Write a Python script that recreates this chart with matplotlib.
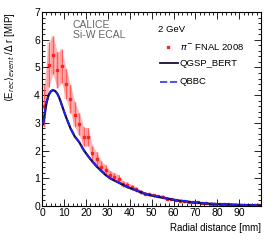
import matplotlib
matplotlib.use("Agg")
import matplotlib.pyplot as plt
from matplotlib.ticker import MultipleLocator
from matplotlib.lines import Line2D
import numpy as np

plt.rcParams['font.family'] = ['Liberation Sans', 'DejaVu Sans']

# data: pi- FNAL 2008, 2 GeV
r_data = [1, 3, 5, 7, 9, 11, 13, 15, 17, 19, 21, 23, 25, 27, 29, 31, 33, 35, 37, 39,
          41, 43, 45, 47, 49, 51, 53, 55, 57, 59, 61, 63, 65, 67, 69, 71, 73, 75, 77, 79,
          81, 83, 85, 87, 89, 91, 93, 95, 97, 99]
e_data = [3.6, 5.1, 5.45, 4.9, 5.05, 4.4, 3.85, 3.3, 2.95, 2.5, 2.5, 1.9, 1.7, 1.42, 1.3, 1.12, 1.05, 0.98, 0.8, 0.75,
          0.68, 0.6, 0.52, 0.45, 0.42, 0.38, 0.36, 0.33, 0.27, 0.24, 0.21, 0.19, 0.17, 0.15, 0.14, 0.13, 0.12, 0.10, 0.09, 0.08,
          0.07, 0.06, 0.06, 0.05, 0.05, 0.04, 0.04, 0.03, 0.03, 0.03]
err_data = [0.75, 0.8, 0.7, 0.65, 0.6, 0.55, 0.5, 0.45, 0.4, 0.35, 0.33, 0.27, 0.24, 0.2, 0.18, 0.16, 0.15, 0.14, 0.11, 0.1,
            0.09, 0.08, 0.07, 0.06, 0.06, 0.05, 0.05, 0.05, 0.04, 0.04, 0.03, 0.03, 0.03, 0.02, 0.02, 0.02, 0.02, 0.02, 0.02, 0.02,
            0.02, 0.02, 0.02, 0.02, 0.02, 0.02, 0.02, 0.02, 0.02, 0.02]

r_sim = [0.5, 2, 3, 4, 5, 6, 7, 8, 9, 10, 11, 12, 13, 14, 15, 17, 19, 21, 23, 25, 27, 29, 31, 33, 35, 37, 39,
         41, 43, 45, 47, 49, 51, 53, 55, 57, 59, 61, 63, 65, 67, 69, 71, 73, 75, 77, 79,
         81, 83, 85, 87, 89, 91, 93, 95, 97, 99.5]
e_qgsp = [2.95, 3.7, 4.0, 4.13, 4.18, 4.15, 4.05, 3.88, 3.65, 3.42, 3.2, 3.0, 2.8, 2.65, 2.5, 2.3, 2.02, 1.8, 1.6, 1.42, 1.27, 1.12, 1.0, 0.92, 0.84, 0.76, 0.68,
          0.62, 0.56, 0.5, 0.44, 0.4, 0.36, 0.33, 0.3, 0.27, 0.24, 0.21, 0.19, 0.17, 0.15, 0.13, 0.12, 0.10, 0.09, 0.08, 0.07,
          0.06, 0.06, 0.05, 0.05, 0.04, 0.04, 0.03, 0.03, 0.03, 0.02]
e_qbbc = [2.97, 3.72, 4.02, 4.15, 4.19, 4.16, 4.06, 3.89, 3.66, 3.43, 3.21, 3.01, 2.81, 2.66, 2.51, 2.31, 2.03, 1.81, 1.61, 1.43, 1.28, 1.13, 1.01, 0.93, 0.85, 0.77, 0.69,
          0.63, 0.57, 0.51, 0.45, 0.41, 0.37, 0.34, 0.31, 0.28, 0.25, 0.22, 0.2, 0.18, 0.16, 0.14, 0.13, 0.11, 0.10, 0.09, 0.08,
          0.07, 0.06, 0.06, 0.05, 0.05, 0.04, 0.04, 0.03, 0.03, 0.03]

fig = plt.figure(figsize=(2.74, 2.40), dpi=100)
ax = fig.add_axes([42/274, 1-206/240, (261-42)/274, (206-12)/240])

rd = np.array(r_data); ed = np.array(e_data); er = np.array(err_data)
ax.fill_between(rd, ed-er, ed+er, color='#ff4444', alpha=0.38, lw=0, zorder=1)
ax.bar(rd, 2*er, bottom=ed-er, width=1.6, color='#ff4444', alpha=0.22, lw=0, zorder=1)
ax.errorbar(rd, ed, yerr=er, fmt='s', ms=1.6, color='#ff2020', ecolor='#ff5050',
            elinewidth=0.6, capsize=0, zorder=2)

ax.plot(r_sim, e_qgsp, color='#1a0a3a', lw=1.6, zorder=3)
ax.plot(r_sim, e_qbbc, color='#2020ff', lw=1.3, ls=(0, (4, 1.5)), zorder=4)

ax.set_xlim(0, 99.9)
ax.set_ylim(0, 7)
ax.xaxis.set_major_locator(MultipleLocator(10))
ax.xaxis.set_minor_locator(MultipleLocator(2))
ax.yaxis.set_major_locator(MultipleLocator(1))
ax.yaxis.set_minor_locator(MultipleLocator(0.2))
ax.tick_params(which='both', direction='in', top=True, right=True, width=0.6, labelsize=7.5, pad=1.5)
ax.tick_params(which='major', length=5)
ax.tick_params(which='minor', length=2.5)
ax.set_xticks(np.arange(0, 100, 10))
for s in ax.spines.values():
    s.set_linewidth(0.8)

fig.text(261/274, 1-228/240, 'Radial distance [mm]', ha='right', va='center', fontsize=7)
fig.text(10/274, 1-12/240, r'$\langle$E$_{rec}\rangle_{event}$ /$\Delta$ r [MIP]', ha='center', va='top',
         rotation=90, fontsize=7)

ax.text(0.14, 0.933, 'CALICE', transform=ax.transAxes, fontsize=7.5, color='#666666', va='center')
ax.text(0.14, 0.88, 'Si-W ECAL', transform=ax.transAxes, fontsize=7.5, color='#666666', va='center')

fig.text(158/274, 1-29/240, '2 GeV', fontsize=6.8, va='center')
fig.text(180/274, 1-47/240, r'$\pi^{-}$ FNAL 2008', fontsize=6.8, va='center')
fig.text(180/274, 1-63/240, 'QGSP_BERT', fontsize=6.8, va='center')
fig.text(180/274, 1-82/240, 'QBBC', fontsize=6.8, va='center')
fig.add_artist(Line2D([168/274], [1-47/240], marker='s', ms=1.6, color='#ff2020', transform=fig.transFigure))
fig.add_artist(Line2D([160/274, 178/274], [1-63/240]*2, color='#1a0a3a', lw=1.3, transform=fig.transFigure))
fig.add_artist(Line2D([160/274, 178/274], [1-82/240]*2, color='#4040ff', lw=1.3, ls=(0, (4, 1.5)), transform=fig.transFigure))

fig.savefig('out.png', dpi=100)
